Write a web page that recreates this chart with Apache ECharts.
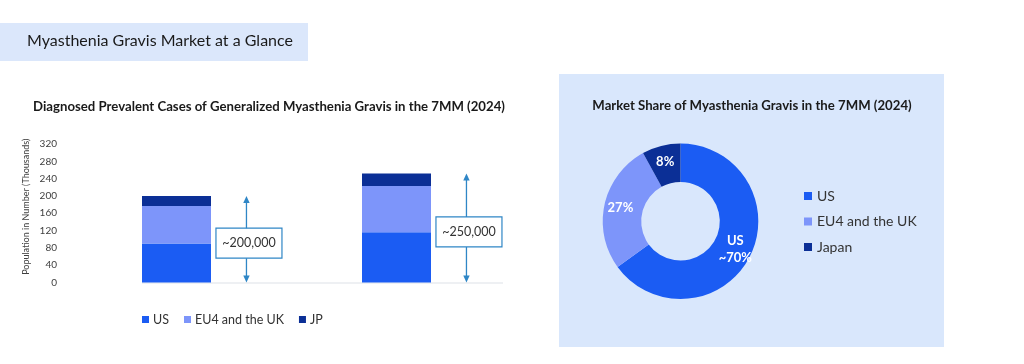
<!DOCTYPE html>
<html>
<head>
<meta charset="utf-8">
<script src="https://cdn.jsdelivr.net/npm/echarts@6/dist/echarts.min.js"></script>
<style>
html,body{margin:0;padding:0;background:#fff;}
#c{width:1024px;height:364px;}
</style>
</head>
<body>
<div id="c"></div>
<script>
// ---- data ----
const categories = ["Estimate A", "Estimate B"];
const usCases = [90, 116];
const eu4ukCases = [87, 107];
const jpCases = [23, 29];
const annotationLabels = ["~200,000", "~250,000"];
const yTicks = { min: 0, max: 320, interval: 40 };

const shareNames = ["US", "EU4 and the UK", "Japan"];
const shareValues = [65, 27, 8];
const shareLabels = ["US\n~70%", "27%", "8%"];

// ---- styles ----
const FONT = "Lato";
const C_US = "#1b5cf3";
const C_EU = "#7d95fa";
const C_JP = "#0b2f96";
const C_ARROW = "#2f86c6";

const totals = categories.map((_, i) => usCases[i] + eu4ukCases[i] + jpCases[i]);
const annData = categories.map((_, i) => [i, totals[i], annotationLabels[i]]);

const chart = echarts.init(document.getElementById('c'), null, { renderer: 'canvas' });

function renderAnn(params, api) {
  const idx = api.value(0);
  const total = api.value(1);
  const label = annotationLabels[idx];
  const top = api.coord([idx, total]);
  const bot = api.coord([idx, 0]);
  const bw = api.size([1, 0])[0];
  const x = top[0] + bw * 0.318;
  const mid = (top[1] + bot[1]) / 2 + 4;
  const children = [];
  if (idx === 0) {
    const end = api.coord([categories.length - 1, 0]);
    children.push({
      type: 'line', z2: 0,
      shape: { x1: bot[0] - 34.5, y1: bot[1] + 0.5, x2: end[0] + bw * 0.484, y2: bot[1] + 0.5 },
      style: { stroke: '#e8ebef', lineWidth: 1.5 }
    });
  }
  children.push({
    type: 'line',
    shape: { x1: x, y1: top[1] + 5, x2: x, y2: bot[1] - 5 },
    style: { stroke: C_ARROW, lineWidth: 1.3 }
  });
  children.push({
    type: 'polygon',
    shape: { points: [[x, top[1]], [x - 3.2, top[1] + 7], [x + 3.2, top[1] + 7]] },
    style: { fill: C_ARROW }
  });
  children.push({
    type: 'polygon',
    shape: { points: [[x, bot[1]], [x - 3.2, bot[1] - 7], [x + 3.2, bot[1] - 7]] },
    style: { fill: C_ARROW }
  });
  children.push({
    type: 'rect',
    shape: { x: x + 2.5 - 33, y: mid - 15, width: 66, height: 30 },
    style: { fill: '#ffffff', stroke: C_ARROW, lineWidth: 1.2 }
  });
  children.push({
    type: 'text',
    style: {
      x: x + 2.5, y: mid, text: label, align: 'center', verticalAlign: 'middle',
      fill: '#333333', font: '12.5px ' + FONT
    }
  });
  return { type: 'group', children };
}

const option = {
  animation: false,
  backgroundColor: '#ffffff',
  textStyle: { fontFamily: FONT },
  graphic: [
    { type: 'rect', z: -10, shape: { x: 0, y: 23, width: 308, height: 38 }, style: { fill: '#dbe7fb' } },
    { type: 'rect', z: -10, shape: { x: 559, y: 74, width: 385, height: 273 }, style: { fill: '#d9e7fc' } }
  ],
  title: [
    {
      text: 'Myasthenia Gravis Market at a Glance',
      left: 27, top: 33, padding: 0,
      textStyle: { fontFamily: FONT, fontSize: 16, fontWeight: 'normal', color: '#1a1a1a' }
    },
    {
      text: 'Diagnosed Prevalent Cases of Generalized Myasthenia Gravis in the 7MM (2024)',
      left: 269, textAlign: 'center', top: 100, padding: 0,
      textStyle: { fontFamily: FONT, fontSize: 13.2, fontWeight: 'bold', color: '#1a1a1a' }
    },
    {
      text: 'Market Share of Myasthenia Gravis in the 7MM (2024)',
      left: 752, textAlign: 'center', top: 99, padding: 0,
      textStyle: { fontFamily: FONT, fontSize: 13.2, fontWeight: 'bold', color: '#1a1a1a' }
    }
  ],
  legend: [
    {
      data: ['US', 'EU4 and the UK', 'JP'],
      left: 142, top: 313,
      itemWidth: 7, itemHeight: 7, itemGap: 15, padding: 0,
      icon: 'rect',
      textStyle: { fontFamily: FONT, fontSize: 12.5, color: '#333333', padding: [0, 0, 0, -1] },
      selectedMode: false
    },
    {
      data: shareNames,
      orient: 'vertical',
      left: 804, top: 188,
      itemWidth: 8, itemHeight: 8, itemGap: 9.5, padding: 0,
      icon: 'rect',
      textStyle: { fontFamily: FONT, fontSize: 14, color: '#333333', lineHeight: 16 },
      selectedMode: false
    }
  ],
  grid: { left: 66.5, top: 144, width: 440, height: 138.5, containLabel: false },
  xAxis: {
    type: 'category', data: categories,
    axisLine: { show: false }, axisTick: { show: false }, axisLabel: { show: false }
  },
  yAxis: {
    type: 'value', min: yTicks.min, max: yTicks.max, interval: yTicks.interval,
    axisLine: { show: false }, axisTick: { show: false }, splitLine: { show: false },
    axisLabel: { color: '#404040', fontFamily: FONT, fontSize: 10, margin: 9.5 },
    name: 'Population in Number (Thousands)', nameLocation: 'middle', nameRotate: 90, nameGap: 36,
    nameTextStyle: { color: '#404040', fontFamily: FONT, fontSize: 9, padding: [0, 0, 0, 13] }
  },
  series: [
    { name: 'US', type: 'bar', stack: 'cases', data: usCases, barWidth: 69, itemStyle: { color: C_US }, z: 2 },
    { name: 'EU4 and the UK', type: 'bar', stack: 'cases', data: eu4ukCases, barWidth: 69, itemStyle: { color: C_EU }, z: 2 },
    { name: 'JP', type: 'bar', stack: 'cases', data: jpCases, barWidth: 69, itemStyle: { color: C_JP }, z: 2 },
    {
      name: 'annotations', type: 'custom', renderItem: renderAnn, data: annData, z: 1,
      encode: { x: 0, y: 1 }, silent: true
    },
    {
      name: 'share', type: 'pie',
      center: [680.5, 221.3], radius: [39.3, 77.8],
      startAngle: 90, clockwise: true,
      avoidLabelOverlap: false,
      label: {
        show: true, position: 'inside', color: '#ffffff', fontFamily: FONT,
        fontWeight: 'bold', fontSize: 13, lineHeight: 17,
        formatter: (p) => shareLabels[p.dataIndex]
      },
      labelLine: { show: false },
      emphasis: { disabled: true },
      data: shareNames.map((n, i) => ({
        name: n, value: shareValues[i],
        itemStyle: { color: [C_US, C_EU, C_JP][i] }
      }))
    }
  ]
};
chart.setOption(option);
</script>
</body>
</html>
